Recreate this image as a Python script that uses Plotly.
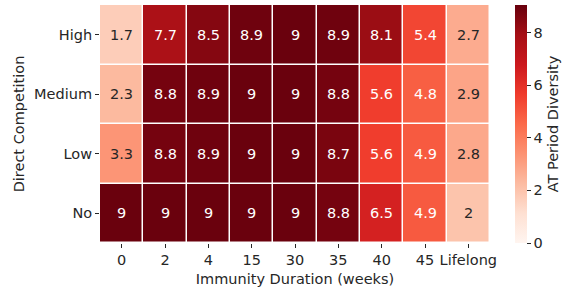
import plotly.graph_objects as go

durations = ["0", "2", "4", "15", "30", "35", "40", "45", "Lifelong"]
competition = ["High", "Medium", "Low", "No"]
high = [1.7, 7.7, 8.5, 8.9, 9.0, 8.9, 8.1, 5.4, 2.7]
medium = [2.3, 8.8, 8.9, 9.0, 9.0, 8.8, 5.6, 4.8, 2.9]
low = [3.3, 8.8, 8.9, 9.0, 9.0, 8.7, 5.6, 4.9, 2.8]
no = [9.0, 9.0, 9.0, 9.0, 9.0, 8.8, 6.5, 4.9, 2.0]
z = [high, medium, low, no]

reds = ["#fff5f0", "#fee0d2", "#fcbba1", "#fc9272", "#fb6a4a",
        "#ef3b2c", "#cb181d", "#a50f15", "#67000d"]
colorscale = [[i / (len(reds) - 1), c] for i, c in enumerate(reds)]
zmin, zmax = 0, 9.05
FS = 14.5

fig = go.Figure(go.Heatmap(
    z=z, x=durations, y=competition, colorscale=colorscale,
    zmin=zmin, zmax=zmax, xgap=1.5, ygap=1.5,
    colorbar=dict(
        x=(515 - 100) / 390, xanchor="left", xpad=0,
        y=0.5, yanchor="middle", len=1.0, lenmode="fraction", ypad=0,
        thickness=12, outlinewidth=0, ticks="outside", ticklen=4, tickwidth=1,
        tickcolor="#262626", tickvals=[0, 2, 4, 6, 8], ticksuffix="\u00a0",
        tickfont=dict(size=FS, color="#262626"),
        title=dict(text="AT Period Diversity", side="right", font=dict(size=FS, color="#262626")),
    ),
    hoverinfo="skip",
))

for r, row in enumerate(z):
    for c, v in enumerate(row):
        txt = f"{v:g}"
        color = "#ffffff" if v > 4.2 else "#262626"
        fig.add_annotation(x=c, y=r, xref="x", yref="y", text=txt, showarrow=False,
                           font=dict(size=FS, color=color))

fig.update_layout(
    width=565, height=288,
    margin=dict(l=100, r=75, t=5, b=45, autoexpand=False),
    paper_bgcolor="white", plot_bgcolor="white",
    font=dict(family="DejaVu Sans", size=FS, color="#262626"),
    xaxis=dict(type="category", title=dict(text="Immunity Duration (weeks)", standoff=6, font=dict(size=FS)),
               ticks="outside", ticklen=4, tickcolor="#262626", showgrid=False, zeroline=False,
               tickfont=dict(size=FS), tickangle=0),
    yaxis=dict(type="category", title=dict(text="Direct Competition", standoff=6, font=dict(size=FS)),
               ticks="outside", ticklen=4, tickcolor="#262626", showgrid=False, zeroline=False,
               autorange="reversed", tickfont=dict(size=FS)),
)

fig.write_html("out.html", post_script="document.body.style.margin='0';", config={"displayModeBar": False})
